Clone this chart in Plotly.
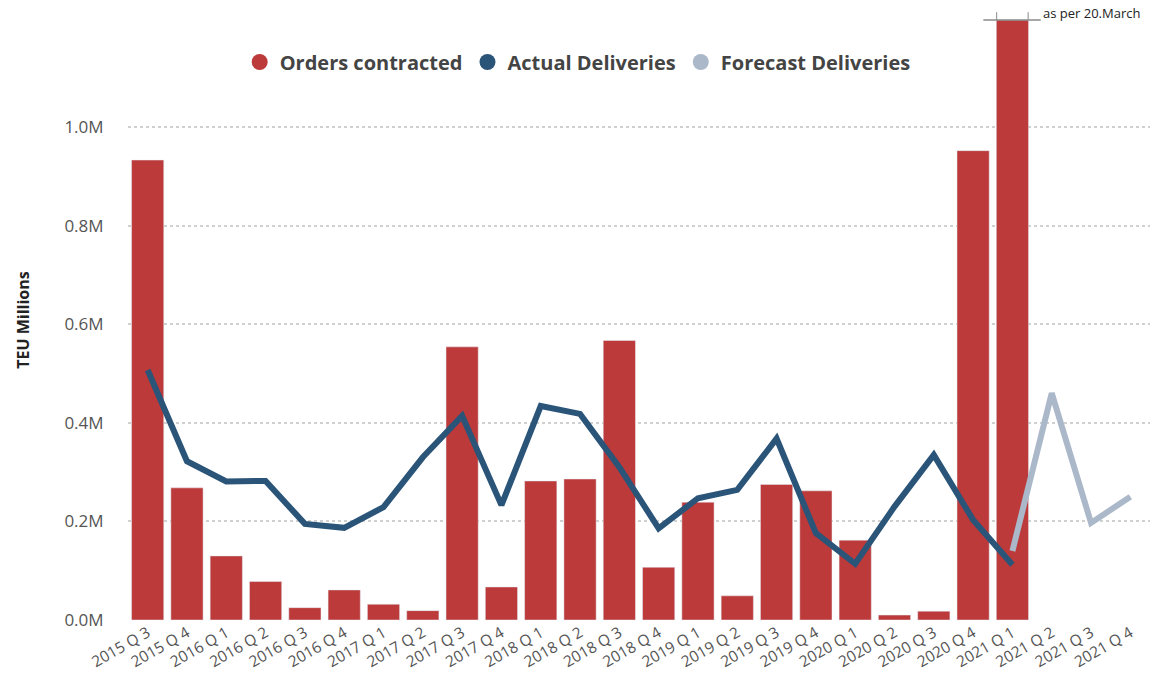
import plotly.graph_objects as go

quarters = ["2015 Q 3", "2015 Q 4", "2016 Q 1", "2016 Q 2", "2016 Q 3", "2016 Q 4",
            "2017 Q 1", "2017 Q 2", "2017 Q 3", "2017 Q 4", "2018 Q 1", "2018 Q 2",
            "2018 Q 3", "2018 Q 4", "2019 Q 1", "2019 Q 2", "2019 Q 3", "2019 Q 4",
            "2020 Q 1", "2020 Q 2", "2020 Q 3", "2020 Q 4", "2021 Q 1", "2021 Q 2",
            "2021 Q 3", "2021 Q 4"]

orders = [0.933, 0.268, 0.130, 0.078, 0.025, 0.061, 0.032, 0.019, 0.554, 0.067,
          0.282, 0.286, 0.567, 0.107, 0.239, 0.049, 0.275, 0.262, 0.162, 0.010,
          0.018, 0.952, 1.217, None, None, None]

actual = [0.507, 0.322, 0.281, 0.282, 0.195, 0.187, 0.229, 0.330, 0.414, 0.233,
          0.434, 0.418, 0.310, 0.186, 0.247, 0.264, 0.368, 0.176, 0.114, 0.230,
          0.335, 0.203, 0.112, None, None, None]

forecast_q = ["2021 Q 1", "2021 Q 2", "2021 Q 3", "2021 Q 4"]
forecast = [0.140, 0.460, 0.197, 0.250]

y_ticks = [0, 0.2, 0.4, 0.6, 0.8, 1.0]
y_tick_text = ["0.0M", "0.2M", "0.4M", "0.6M", "0.8M", "1.0M"]

RED = "#BC3A3A"
BLUE = "#2B5479"
LIGHT = "#AAB8CA"

fig = go.Figure()
fig.add_trace(go.Bar(x=quarters, y=orders, marker_color=RED, showlegend=False,
                     name="Orders contracted"))
fig.add_trace(go.Scatter(x=quarters, y=actual, mode="lines", showlegend=False,
                         line=dict(color=BLUE, width=6), name="Actual Deliveries"))
fig.add_trace(go.Scatter(x=forecast_q, y=forecast, mode="lines", showlegend=False,
                         line=dict(color=LIGHT, width=6), name="Forecast Deliveries"))

# legend entries (circle markers)
for nm, col in [("Orders contracted", RED), ("Actual Deliveries", BLUE),
                ("Forecast Deliveries", LIGHT)]:
    fig.add_trace(go.Scatter(x=[None], y=[None], mode="markers", name=nm,
                             marker=dict(color=col, size=20, symbol="circle")))

# "as per 20.March" marker
line_col = "#8a8a8a"
fig.add_shape(type="line", xref="x", yref="paper", x0=21.26, x1=22.72, y0=1.0, y1=1.0,
              line=dict(color=line_col, width=1.5))
for xv in [21.6, 22.4]:
    fig.add_shape(type="line", xref="x", yref="paper", x0=xv, x1=xv, y0=1.0, y1=1.013,
                  line=dict(color=line_col, width=1))
fig.add_annotation(x=22.72, xref="x", y=1.0, yref="paper", text="as per 20.March",
                   showarrow=False, xanchor="left", yanchor="bottom", yshift=-4,
                   font=dict(size=13, color="#222", family="Open Sans"))

fig.update_layout(
    width=1165, height=691,
    margin=dict(l=128, r=15, t=20, b=71),
    paper_bgcolor="white", plot_bgcolor="white",
    bargap=0.18,
    font=dict(family="Open Sans", color="#555"),
    legend=dict(orientation="h", x=0.44, xanchor="center", y=0.93, yanchor="middle",
                font=dict(size=20, color="#444", family="Open Sans", weight="bold"),
                itemsizing="trace", itemwidth=30, tracegroupgap=0,
                bgcolor="rgba(0,0,0,0)"),
    xaxis=dict(type="category", categoryorder="array", categoryarray=quarters,
               tickangle=-30, tickfont=dict(size=15.5, color="#555"),
               showgrid=False, showline=False, ticks="", range=[-0.5, 25.5]),
    yaxis=dict(range=[0, 1.217], tickvals=y_ticks, ticktext=y_tick_text,
               tickfont=dict(size=17, color="#555"),
               showgrid=True, gridcolor="#d0d0d0", griddash="dot", gridwidth=1.5,
               zeroline=False, showline=False, ticks="outside", ticklen=20,
               tickcolor="white",
               title=dict(text="<b>TEU Millions</b>", font=dict(size=16, color="#222"),
                          standoff=30)),
)

fig.write_html("out.html")
